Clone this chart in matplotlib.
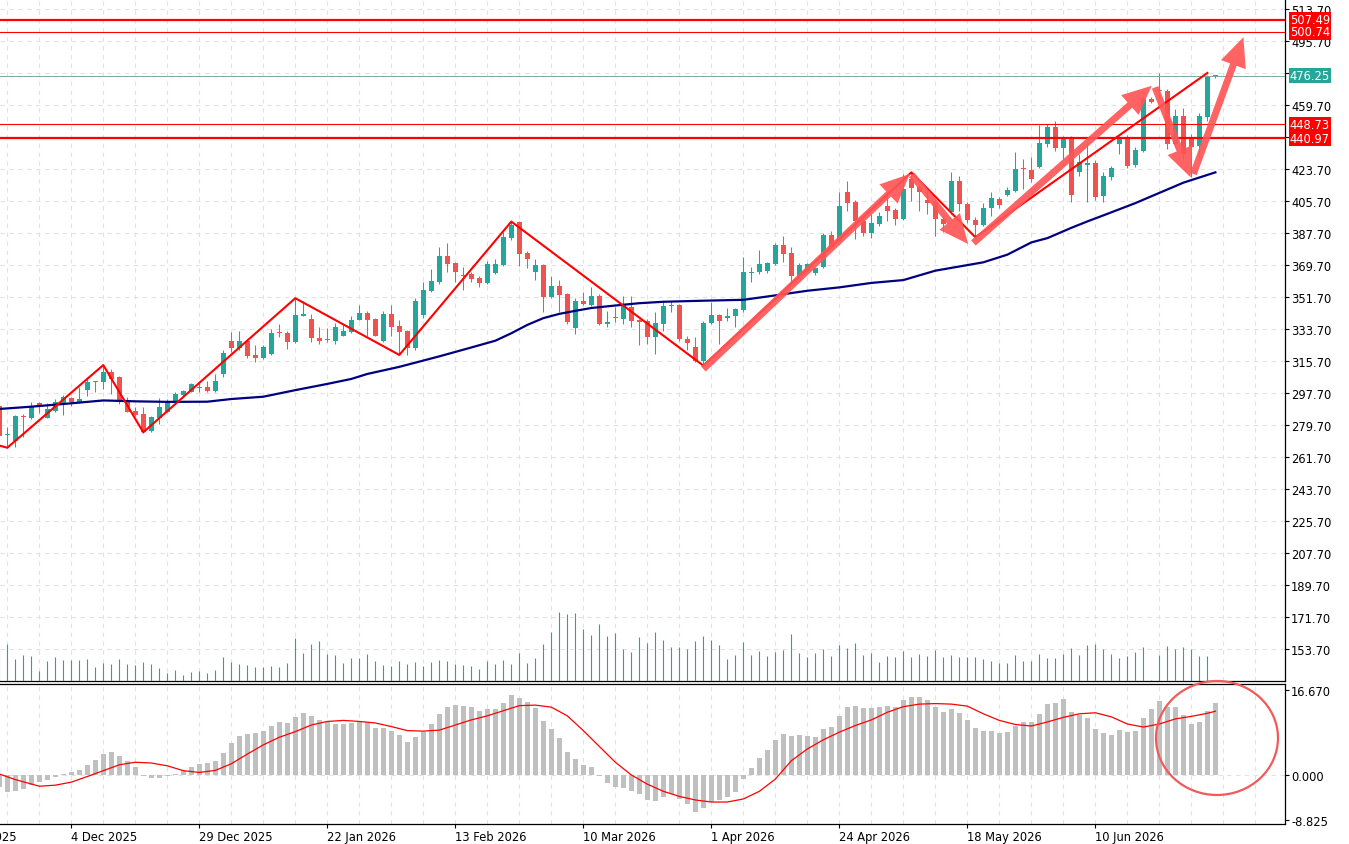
import numpy as np
import matplotlib.pyplot as plt
import matplotlib.transforms as mtransforms
from matplotlib.patches import Ellipse, FancyArrowPatch

plt.rcParams['font.family'] = ['DejaVu Sans']
plt.rcParams['font.size'] = 8.3

# daily bars, first one (index -1) is cut by the left edge
first_bar = -1
opens = [290.6,
         274.0, 270.8, 284.9, 283.7, 291.9, 283.7, 287.8, 291.5, 294.7, 292.8,
         299.6, 303.9, 303.7, 309.7, 306.5, 293.4, 287.8, 285.9, 276.5, 283.5,
         287.2, 292.4, 296.6, 298.1, 300.6, 300.9, 299.0, 308.4, 327.1, 323.0,
         327.1, 319.0, 317.6, 319.5, 331.5, 331.5, 326.2, 341.2, 339.3, 328.6,
         327.5, 326.8, 330.0, 332.1, 339.0, 342.7, 339.3, 327.1, 342.1, 335.5,
         332.4, 323.0, 341.6, 355.3, 360.0, 374.9, 370.8, 363.9, 364.6, 362.4,
         359.6, 365.2, 369.7, 384.7, 393.7, 376.4, 366.0, 369.7, 351.7, 357.7,
         353.4, 334.1, 349.2, 347.2, 352.4, 336.5, 339.8, 339.3, 346.3, 339.0,
         338.4, 329.0, 336.5, 346.8, 347.2, 328.1, 323.8, 315.9, 337.1, 341.7,
         339.7, 341.2, 344.4, 365.4, 366.0, 366.3, 370.3, 381.0, 376.4, 363.7,
         366.2, 365.2, 368.4, 386.6, 383.4, 410.6, 405.3, 394.6, 387.7, 392.8,
         403.1, 400.6, 395.6, 418.1, 413.4, 406.4, 404.9, 395.6, 399.3, 417.2,
         404.1, 395.2, 392.2, 401.6, 406.8, 409.1, 411.5, 423.9, 423.1, 424.7,
         437.6, 447.2, 435.5, 441.5, 421.8, 426.2, 427.1, 408.3, 419.0, 437.6,
         441.5, 426.0, 434.0, 463.1, 467.8, 467.8, 437.6, 453.7, 441.5, 436.8,
         452.8, 476.0]
highs = [292.5,
         278.6, 285.5, 285.8, 292.4, 292.8, 292.2, 294.3, 296.7, 295.5, 301.0,
         306.5, 304.6, 313.1, 311.0, 307.5, 295.3, 290.0, 289.6, 284.5, 294.7,
         294.5, 298.5, 299.5, 303.5, 304.0, 304.6, 308.4, 322.0, 331.8, 332.7,
         328.0, 324.5, 324.5, 333.7, 336.5, 332.5, 350.6, 349.5, 342.1, 334.6,
         334.5, 337.0, 336.0, 340.8, 347.2, 344.0, 340.0, 344.0, 347.2, 339.0,
         333.0, 351.0, 360.0, 367.4, 379.6, 382.1, 371.5, 368.4, 365.5, 363.5,
         372.1, 373.1, 388.4, 394.1, 394.2, 377.5, 373.1, 370.5, 363.3, 361.4,
         354.0, 351.0, 354.3, 357.1, 353.5, 344.0, 345.8, 352.1, 352.4, 339.5,
         339.5, 343.1, 349.0, 349.6, 348.0, 329.5, 329.0, 338.3, 348.7, 342.1,
         345.3, 345.5, 374.0, 368.4, 378.3, 371.5, 382.1, 385.8, 379.6, 371.0,
         371.0, 368.5, 387.7, 389.0, 410.6, 417.1, 406.0, 396.0, 398.4, 399.5,
         410.6, 401.5, 420.9, 421.8, 415.0, 411.5, 406.0, 397.0, 422.0, 419.6,
         405.0, 396.5, 404.4, 411.0, 408.0, 413.5, 433.1, 429.3, 430.2, 448.5,
         449.0, 450.6, 442.4, 442.5, 432.0, 438.0, 429.0, 421.8, 425.5, 442.4,
         443.0, 436.0, 464.0, 464.0, 477.7, 468.5, 457.6, 458.0, 443.4, 455.0,
         476.5, 476.6]
lows = [272.5,
        268.0, 267.5, 272.8, 283.0, 286.5, 283.5, 287.0, 285.5, 290.5, 292.0,
        296.2, 298.1, 300.0, 297.1, 291.5, 286.8, 284.5, 275.2, 275.5, 280.3,
        287.0, 292.0, 296.0, 298.0, 298.1, 298.3, 298.5, 306.5, 321.0, 322.0,
        317.5, 315.0, 317.0, 319.0, 329.0, 322.4, 326.0, 341.0, 326.6, 325.3,
        326.5, 325.5, 329.5, 331.5, 338.5, 330.0, 329.5, 326.5, 329.6, 319.0,
        319.0, 322.0, 340.0, 354.5, 359.0, 365.6, 360.3, 355.8, 360.0, 357.5,
        359.0, 364.5, 369.0, 384.0, 369.3, 367.8, 361.4, 343.4, 351.0, 343.4,
        336.5, 330.9, 347.0, 346.5, 336.0, 334.6, 337.4, 336.5, 335.0, 324.7,
        325.3, 319.6, 332.7, 343.1, 327.0, 322.0, 315.0, 313.1, 336.5, 325.3,
        338.3, 334.6, 343.5, 360.3, 364.5, 365.0, 369.5, 371.5, 360.0, 363.0,
        365.5, 364.0, 368.0, 378.5, 383.0, 400.2, 384.5, 386.0, 384.9, 391.5,
        394.6, 392.4, 395.0, 405.8, 400.2, 398.4, 385.8, 388.0, 398.5, 400.2,
        393.5, 385.3, 391.8, 397.4, 401.5, 408.5, 410.5, 412.5, 416.2, 424.0,
        435.9, 434.0, 429.3, 405.0, 419.9, 405.3, 406.0, 405.3, 417.5, 432.1,
        424.5, 425.0, 433.0, 461.0, 463.1, 434.9, 436.5, 429.5, 419.0, 430.2,
        450.9, 474.8]
closes = [273.7,
          274.6, 284.9, 284.0, 290.6, 290.6, 288.7, 292.4, 295.3, 292.8, 294.3,
          304.1, 303.7, 309.7, 305.6, 292.4, 287.2, 285.5, 276.0, 284.0, 289.6,
          292.4, 297.1, 299.0, 302.7, 300.9, 298.6, 304.6, 320.2, 323.0, 327.1,
          318.7, 317.6, 323.6, 331.5, 331.2, 326.2, 341.6, 342.1, 328.5, 327.1,
          327.3, 335.0, 332.6, 338.7, 342.7, 339.0, 330.0, 342.1, 334.6, 332.2,
          323.0, 349.6, 355.8, 360.9, 374.9, 370.3, 366.0, 363.7, 361.8, 359.6,
          370.3, 370.3, 385.2, 392.2, 375.9, 373.1, 369.7, 351.9, 357.7, 353.0,
          337.8, 349.6, 347.6, 352.4, 336.5, 337.4, 339.6, 347.2, 338.4, 337.8,
          329.0, 337.1, 346.8, 347.3, 328.1, 325.8, 315.9, 337.1, 341.6, 338.4,
          340.8, 344.9, 365.6, 365.6, 370.3, 370.7, 381.0, 375.9, 363.3, 369.7,
          370.3, 367.8, 386.6, 379.7, 403.1, 404.6, 394.6, 387.7, 393.3, 397.5,
          400.3, 395.6, 412.5, 412.8, 410.6, 404.4, 395.6, 392.5, 417.2, 404.1,
          395.2, 392.2, 401.6, 407.2, 403.4, 412.1, 423.7, 423.7, 418.1, 438.3,
          447.2, 435.3, 441.0, 409.1, 427.5, 426.5, 407.8, 419.6, 424.1, 441.5,
          425.6, 434.6, 463.1, 461.6, 467.4, 437.6, 453.7, 432.1, 435.9, 453.7,
          476.2, 476.25]
volumes = [30,
           37, 22, 26, 25, 10, 20, 24, 21, 21, 21,
           22, 14, 18, 17, 22, 17, 16, 19, 17, 13,
           8, 11, 6, 9, 10, 8, 11, 24, 19, 17,
           16, 14, 14, 15, 14, 18, 43, 28, 37, 40,
           27, 26, 18, 23, 23, 27, 20, 16, 15, 20,
           17, 19, 15, 19, 21, 20, 17, 16, 15, 12,
           20, 17, 21, 17, 28, 18, 23, 37, 49, 69,
           67, 68, 52, 46, 57, 45, 48, 32, 29, 44,
           38, 49, 41, 34, 34, 32, 40, 45, 41, 36,
           22, 26, 39, 26, 30, 25, 29, 31, 47, 28,
           24, 28, 32, 25, 36, 33, 38, 26, 28, 19,
           25, 24, 30, 24, 27, 25, 31, 24, 26, 24,
           24, 24, 22, 20, 18, 18, 26, 20, 20, 27,
           23, 23, 27, 33, 26, 36, 37, 32, 27, 23,
           25, 29, 34, 1, 26, 35, 32, 34, 32, 25,
           25, 0]
macd_hist = [-2.4,
             -3.3, -3.1, -2.7, -1.9, -1.3, -0.9, -0.3, 0.1, 0.6, 1.0,
             2.0, 2.9, 4.1, 4.5, 3.8, 2.7, 1.6, -0.1, -0.5, -0.5,
             -0.2, 0.2, 0.8, 1.6, 2.2, 2.4, 2.7, 4.4, 6.3, 7.7,
             8.0, 8.2, 8.6, 9.6, 10.3, 10.2, 11.4, 12.2, 11.6, 10.8,
             10.3, 10.0, 10.0, 10.1, 10.5, 10.3, 9.3, 9.2, 8.6, 7.8,
             6.5, 7.5, 8.5, 10.0, 12.0, 13.4, 13.7, 13.5, 13.3, 12.5,
             12.9, 13.0, 14.1, 15.7, 15.1, 14.3, 13.2, 10.6, 9.0, 7.3,
             4.5, 3.1, 2.0, 1.6, -0.1, -1.6, -2.4, -2.5, -3.1, -3.7,
             -4.9, -5.1, -4.3, -3.7, -4.7, -5.7, -7.3, -6.5, -5.3, -4.9,
             -4.3, -3.3, -0.8, 1.4, 3.3, 4.9, 6.9, 8.0, 7.6, 7.8,
             7.6, 7.5, 9.0, 9.4, 11.6, 13.3, 13.5, 13.1, 13.1, 13.3,
             13.5, 13.3, 14.7, 15.3, 15.3, 14.7, 13.3, 12.4, 12.9, 12.2,
             10.8, 9.2, 8.6, 8.6, 8.2, 8.4, 9.6, 10.3, 10.3, 12.0,
             13.9, 14.2, 14.9, 12.3, 11.8, 11.2, 9.0, 8.2, 7.8, 8.8,
             8.5, 8.6, 11.2, 12.9, 14.5, 13.3, 13.3, 11.8, 10.0, 10.3,
             12.5, 14.1]

# signal line of the oscillator, read every second bar
sig_bars = [-1, 1, 4, 6, 8] + list(range(10, 151, 2)) + [151]
sig_vals = [0.2, -0.9, -2.2, -2.0, -1.4,
            -0.3, 0.85, 2.0, 2.5, 2.35, 1.8, 0.85, 0.5, 0.9, 2.2,
            4.1, 5.9, 7.4, 8.5, 9.8, 10.5, 10.7, 10.5, 10.2, 9.5,
            8.7, 8.6, 8.8, 9.8, 10.8, 11.6, 12.6, 13.6, 13.7, 13.3,
            11.6, 8.7, 5.6, 2.5, 0.0, -1.8, -3.2, -4.2, -4.9, -5.3,
            -5.3, -4.7, -3.2, -0.8, 2.8, 5.1, 6.9, 8.4, 9.7, 10.8,
            12.3, 13.4, 13.9, 14.0, 13.9, 13.5, 12.0, 10.7, 9.9, 9.6,
            10.4, 11.3, 12.0, 12.2, 11.4, 10.0, 9.4, 10.0, 11.0, 11.5,
            12.1, 12.5]

# moving average (navy line)
ma_bars = [-1, 3, 7, 12, 16, 20, 25, 28, 32, 36, 40, 43, 45, 49, 54, 58, 61, 63,
           65, 67, 69, 71, 73, 76, 79, 82, 87, 92, 96, 100, 104, 108, 112, 116,
           122, 125, 128, 130, 133, 135, 137, 141, 147, 151]
ma_vals = [288.7, 290.0, 291.5, 293.5, 293.0, 292.7, 292.8, 294.3, 295.6, 299.3,
           302.8, 305.6, 308.4, 312.4, 318.3, 323.3, 327.1, 331.3, 336.0, 339.8,
           342.2, 343.9, 345.5, 346.9, 348.2, 349.0, 349.6, 350.1, 352.6, 355.2,
           357.1, 359.6, 361.2, 366.5, 371.2, 375.5, 382.4, 384.8, 390.6, 394.2,
           397.6, 404.5, 416.0, 421.8]

# zigzag pivots
zz_bars = [-2, 0, 12, 17, 36, 49, 63, 87, 113, 121, 150]
zz_vals = [269.4, 266.9, 313.4, 275.6, 351.0, 319.1, 394.1, 313.1, 421.8, 385.3, 477.7]

# drawn arrows: (bar, price) tail -> tip
arrows = [((87.0, 311.2), (112.8, 420.9)),
          ((113.05, 420.3), (120.1, 381.5)),
          ((120.75, 382.1), (143.05, 470.5)),
          ((143.46, 469.6), (147.9, 419.0)),
          ((148.25, 420.9), (154.5, 497.8))]

red_levels = [507.49, 500.74, 448.73, 440.97]
red_widths = [1.6, 0.8, 0.8, 1.6]
last_price = 476.25

price_ticks = [513.7 - 18 * i for i in range(21)]
date_bars = [8, 24, 40, 56, 72, 88, 104, 120, 136]
date_labels = ['4 Dec 2025', '29 Dec 2025', '22 Jan 2026', '13 Feb 2026', '10 Mar 2026',
               '1 Apr 2026', '24 Apr 2026', '18 May 2026', '10 Jun 2026']

teal = '#26a69a'
red = '#ef5350'

W, H = 1349, 845
fig = plt.figure(figsize=(W / 100, H / 100), dpi=100, facecolor='white')
ax = fig.add_axes([0, 1 - 682 / H, 1285 / W, 682 / H])
axm = fig.add_axes([0, 1 - 825 / H, 1285 / W, 140.5 / H])

x = np.arange(len(opens)) + first_bar
o = np.array(opens)
c = np.array(closes)
cols = np.where(c >= o, teal, red)

grid_kw = dict(color='#e2e2e2', lw=0.8, ls=(0, (4, 4)), zorder=0)
for v in price_ticks:
    ax.axhline(v, **grid_kw)
for g in range(0, 160, 4):
    ax.axvline(g, **grid_kw)
    axm.axvline(g, **grid_kw)
axm.axhline(0, **grid_kw)

# volume overlay
axv = ax.twinx()
axv.set_ylim(0, 682)
axv.vlines(x, 0, volumes, colors=teal, lw=0.8)
axv.set_axis_off()

# candles
ax.vlines(x, lows, highs, colors=cols, lw=0.75, zorder=3)
ax.bar(x, np.maximum(np.abs(c - o), 0.6), bottom=np.minimum(o, c), width=0.66,
       color=cols, lw=0, zorder=4)

ax.plot(ma_bars, ma_vals, color='#000080', lw=1.6, zorder=5)

for lvl, lw in zip(red_levels, red_widths):
    ax.axhline(lvl, color='#ff0000', lw=lw, zorder=5)
ax.axhline(last_price, color='#7aa9a5', lw=0.7, zorder=5)

ax.plot(zz_bars, zz_vals, color='#ff0000', lw=1.5, zorder=6)
for tail, tip in arrows:
    ax.add_patch(FancyArrowPatch(tail, tip, arrowstyle='simple,head_length=21,head_width=19,tail_width=5',
                                 mutation_scale=1, shrinkA=0, shrinkB=0, color='#ff5656',
                                 alpha=0.92, lw=0, zorder=7))

ax.set_xlim(-0.91, 159.7)
ax.set_ylim(135.7, 519.3)
ax.yaxis.tick_right()
ax.set_yticks(price_ticks)
ax.set_yticklabels(['' if round(v, 2) in (477.7, 441.7) else f'{v:.2f}' for v in price_ticks])
ax.set_xticks([])
ax.tick_params(axis='y', direction='out', length=3, width=0.8, pad=1.5, right=True, left=False)
for s in ['top', 'left']:
    ax.spines[s].set_visible(False)
for s in ['right', 'bottom']:
    ax.spines[s].set_linewidth(0.9)

trans = mtransforms.blended_transform_factory(ax.transAxes, ax.transData)
for lvl in red_levels:
    ax.annotate(f'{lvl:.2f}', xy=(1, lvl), xycoords=trans, xytext=(3.5, 0), textcoords='offset points',
                ha='left', va='center', color='white', zorder=10, annotation_clip=False,
                bbox=dict(boxstyle='square,pad=0.1', fc='#ff0000', ec='none'))
ax.annotate(f'{last_price:.2f}', xy=(1, last_price), xycoords=trans, xytext=(3.5, 0), textcoords='offset points',
            ha='left', va='center', color='white', zorder=10, annotation_clip=False,
            bbox=dict(boxstyle='square,pad=0.1', fc=teal, ec='none'))

# oscillator panel
axm.bar(x, macd_hist, width=0.56, color='#c0c0c0', lw=0, zorder=2)
axm.plot(sig_bars, sig_vals, color='#ff0000', lw=0.9, zorder=3)
axm.set_xlim(-0.91, 159.7)
axm.set_ylim(-9.61, 17.94)
axm.yaxis.tick_right()
axm.set_yticks([16.67, 0, -8.825])
axm.set_yticklabels(['16.670', '0.000', '-8.825'])
axm.set_xticks(date_bars)
axm.set_xticklabels(date_labels, ha='left')
axm.tick_params(axis='both', direction='out', length=3, width=0.8, pad=1.5)
axm.spines['left'].set_visible(False)
for s in ['top', 'right', 'bottom']:
    axm.spines[s].set_linewidth(0.9)
# date label that the left edge cuts, as in the source chart
axm.annotate('12 Nov 2025', xy=(-8, 0), xycoords=('data', 'axes fraction'), xytext=(0, -4.5),
             textcoords='offset points', ha='left', va='top', annotation_clip=False)

fig.add_artist(Ellipse((1217 / W, 1 - 739 / H), 122 / W, 114 / H, transform=fig.transFigure,
                       fill=False, ec='#f05a5a', lw=1.6))

fig.savefig('out.png', dpi=100, facecolor='white')
